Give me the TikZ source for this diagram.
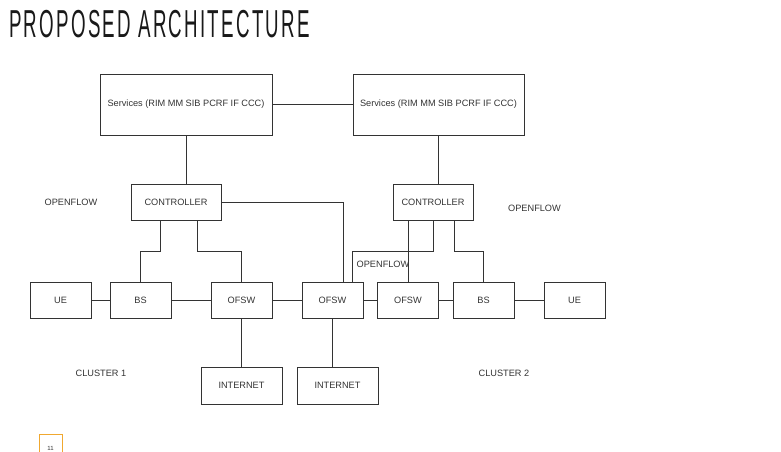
\documentclass[tikz,border=0pt]{standalone}
\usepackage{fontspec}
\setmainfont{Liberation Sans}
\newfontfamily\titlefont[LetterSpace=12]{Liberation Sans}
\definecolor{pageorange}{HTML}{F0A830}
\begin{document}
\begin{tikzpicture}[x=1pt,y=-1pt,
  box/.style={draw=black!80,line width=1pt,inner sep=0pt,text=black!80,font=\fontsize{9.2}{10}\selectfont},
  lbl/.style={text=black!80,font=\fontsize{9.2}{10}\selectfont,inner sep=0pt},
  link/.style={draw=black!80,line width=1pt}]
\useasboundingbox (0,0) rectangle (781,452);

% title
\node[anchor=west,inner sep=0pt,text=black!90] (title) at (9,24)
  {\scalebox{0.48}[1]{\titlefont\fontsize{39}{40}\selectfont PROPOSED ARCHITECTURE}};

% services
\node[box,minimum width=172pt,minimum height=61pt] (s1) at (186,104.5) {Services (RIM MM SIB PCRF IF CCC)};
\node[box,minimum width=171pt,minimum height=61pt] (s2) at (438.5,104.5) {Services (RIM MM SIB PCRF IF CCC)};

% controllers
\node[box,minimum width=90pt,minimum height=36pt] (c1) at (176,202) {CONTROLLER};
\node[box,minimum width=80pt,minimum height=36pt] (c2) at (433,202) {CONTROLLER};

% access row
\node[box,minimum width=61pt,minimum height=36pt] (ue1) at (60.5,300) {UE};
\node[box,minimum width=61pt,minimum height=36pt] (bs1) at (140.5,300) {BS};
\node[box,minimum width=61pt,minimum height=36pt] (sw1) at (241.5,300) {OFSW};
\node[box,minimum width=61pt,minimum height=36pt] (sw2) at (332.5,300) {OFSW};
\node[box,minimum width=61pt,minimum height=36pt] (sw3) at (408,300) {OFSW};
\node[box,minimum width=61pt,minimum height=36pt] (bs2) at (483.5,300) {BS};
\node[box,minimum width=61pt,minimum height=36pt] (ue2) at (574.5,300) {UE};

% internet
\node[box,minimum width=81pt,minimum height=37pt] (in1) at (241.5,385.5) {INTERNET};
\node[box,minimum width=81pt,minimum height=37pt] (in2) at (337.5,385.5) {INTERNET};

% labels
\node[lbl] (of1) at (71,202) {OPENFLOW};
\node[lbl] (of2) at (534.5,208) {OPENFLOW};
\node[lbl] (of3) at (383,264) {OPENFLOW};
\node[lbl] (cl1) at (101,373) {CLUSTER 1};
\node[lbl] (cl2) at (504,373) {CLUSTER 2};

% page number
\draw[draw=pageorange,line width=0.8pt] (39,460) -- (39,434.5) -- (62,434.5) -- (62,460);
\node[inner sep=0pt,font=\fontsize{6}{7}\selectfont,text=black!80] (pg) at (50.5,448) {11};

\path[link] (s1.east) -- (s2.west);
\path[link] (s1.south) -- (s1.south |- c1.north);
\path[link] (s2.south) -- (s2.south |- c2.north);

\path[link] (160,0 |- c1.south) -- (160,251) -| (bs1.north);
\path[link] (197,0 |- c1.south) -- (197,251) -| (sw1.north);
\path[link] (c1.east) -| (343,0 |- sw2.north);

\path[link] (sw3.north |- c2.south) -- (sw3.north);
\path[link] (c2.south) -- (433,251) -| (352,0 |- sw2.north);
\path[link] (454,0 |- c2.south) -- (454,251) -| (bs2.north);

\path[link] (ue1) -- (bs1);
\path[link] (bs1) -- (sw1);
\path[link] (sw1) -- (sw2);
\path[link] (sw2) -- (sw3);
\path[link] (sw3) -- (bs2);
\path[link] (bs2) -- (ue2);

\path[link] (sw1.south) -- (in1.north);
\path[link] (sw2.south) -- (sw2.south |- in2.north);
\end{tikzpicture}
\end{document}
